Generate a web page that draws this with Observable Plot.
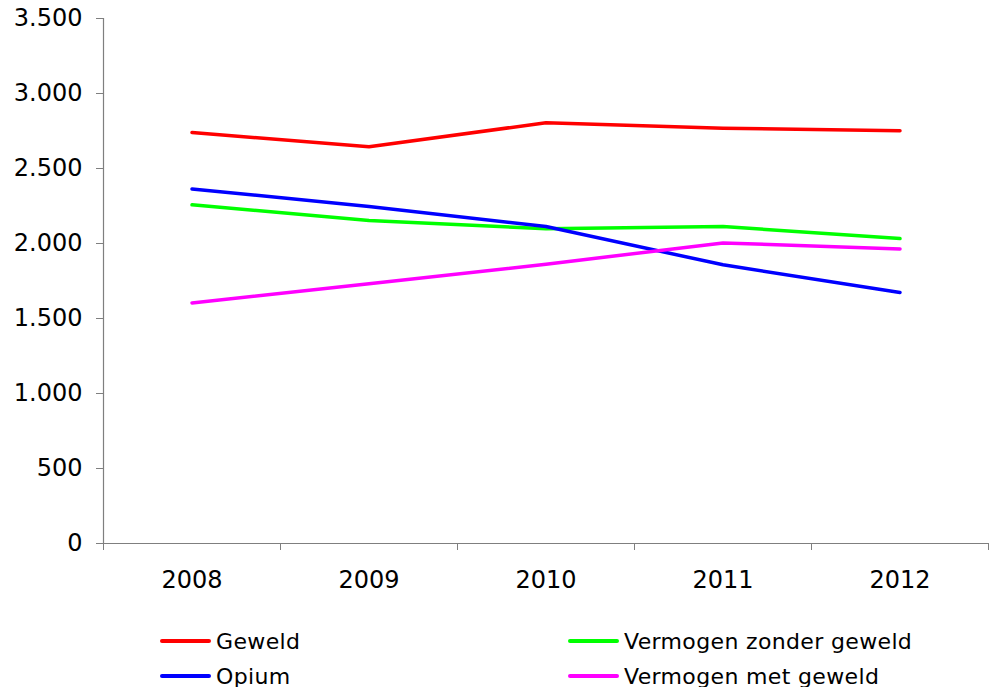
<!DOCTYPE html>
<html>
<head>
<meta charset="utf-8">
<script src="https://cdn.jsdelivr.net/npm/d3@7"></script>
<script src="https://cdn.jsdelivr.net/npm/@observablehq/plot@0.6"></script>
<style>
  body { margin: 0; background: #fff; font-family: "DejaVu Sans", Verdana, sans-serif; }
  #wrap { position: relative; width: 990px; height: 687px; overflow: hidden; }
  .leg { position: absolute; display: flex; align-items: center; font-size: 22px; letter-spacing: 0.35px; color: #000; height: 30px; white-space: nowrap; }
  .sw { width: 51px; height: 4px; border-radius: 2px; margin-right: 5px; }
</style>
</head>
<body>
<div id="wrap"></div>
<script>
const years = [2008, 2009, 2010, 2011, 2012];
const seriesNames = ["Geweld", "Vermogen zonder geweld", "Opium", "Vermogen met geweld"];
const seriesColors = ["#FF0000", "#00FF00", "#0000FF", "#FF00FF"];
const geweld = [2740, 2645, 2805, 2768, 2752];
const vermogenZonder = [2258, 2153, 2098, 2113, 2033];
const opium = [2364, 2247, 2113, 1858, 1673];
const vermogenMet = [1604, 1731, 1862, 2004, 1964];
const yTicks = [0, 500, 1000, 1500, 2000, 2500, 3000, 3500];

const seriesValues = [geweld, vermogenZonder, opium, vermogenMet];
const data = [];
seriesNames.forEach((name, i) => {
  years.forEach((yr, j) => data.push({series: name, year: yr, value: seriesValues[i][j]}));
});

const nl = d3.formatLocale({decimal: ",", thousands: ".", grouping: [3], currency: ["€", ""]});
const fmt = nl.format(",d");
const bounds = [years[0] - 0.5, ...years.map(y => y + 0.5)];

const chart = Plot.plot({
  width: 990,
  height: 610,
  marginTop: 18,
  marginBottom: 67,
  marginLeft: 103,
  marginRight: 2,
  style: {fontFamily: "DejaVu Sans, Verdana, sans-serif", fontSize: "24px", background: "white", color: "black"},
  x: {type: "linear", domain: [bounds[0], bounds[bounds.length - 1]]},
  y: {domain: [0, 3500]},
  color: {domain: seriesNames, range: seriesColors},
  marks: [
    Plot.axisY({ticks: yTicks, tickFormat: fmt, tickSize: 7, tickPadding: 14, stroke: "#7f7f7f", fill: "black", fontSize: 24, label: null}),
    Plot.axisX({ticks: bounds, tickFormat: () => "", tickSize: 7, stroke: "#7f7f7f", label: null}),
    Plot.axisX({ticks: years, tickFormat: d => String(d), tickSize: 0, tickPadding: 27, fill: "black", fontSize: 24, label: null}),
    Plot.ruleX([bounds[0]], {stroke: "#7f7f7f", strokeWidth: 1.2}),
    Plot.ruleY([0], {stroke: "#7f7f7f", strokeWidth: 1.2}),
    Plot.line(data, {x: "year", y: "value", z: "series", stroke: "series", strokeWidth: 3.5, strokeLinejoin: "round", strokeLinecap: "round"})
  ]
});
const wrap = document.getElementById("wrap");
wrap.appendChild(chart);

const legPos = [[160, 626], [568, 626], [160, 661], [568, 661]];
seriesNames.forEach((name, i) => {
  const el = document.createElement("div");
  el.className = "leg";
  el.style.left = legPos[i][0] + "px";
  el.style.top = legPos[i][1] + "px";
  const sw = document.createElement("div");
  sw.className = "sw";
  sw.style.background = seriesColors[i];
  const tx = document.createElement("span");
  tx.textContent = name;
  el.appendChild(sw);
  el.appendChild(tx);
  wrap.appendChild(el);
});
</script>
</body>
</html>
